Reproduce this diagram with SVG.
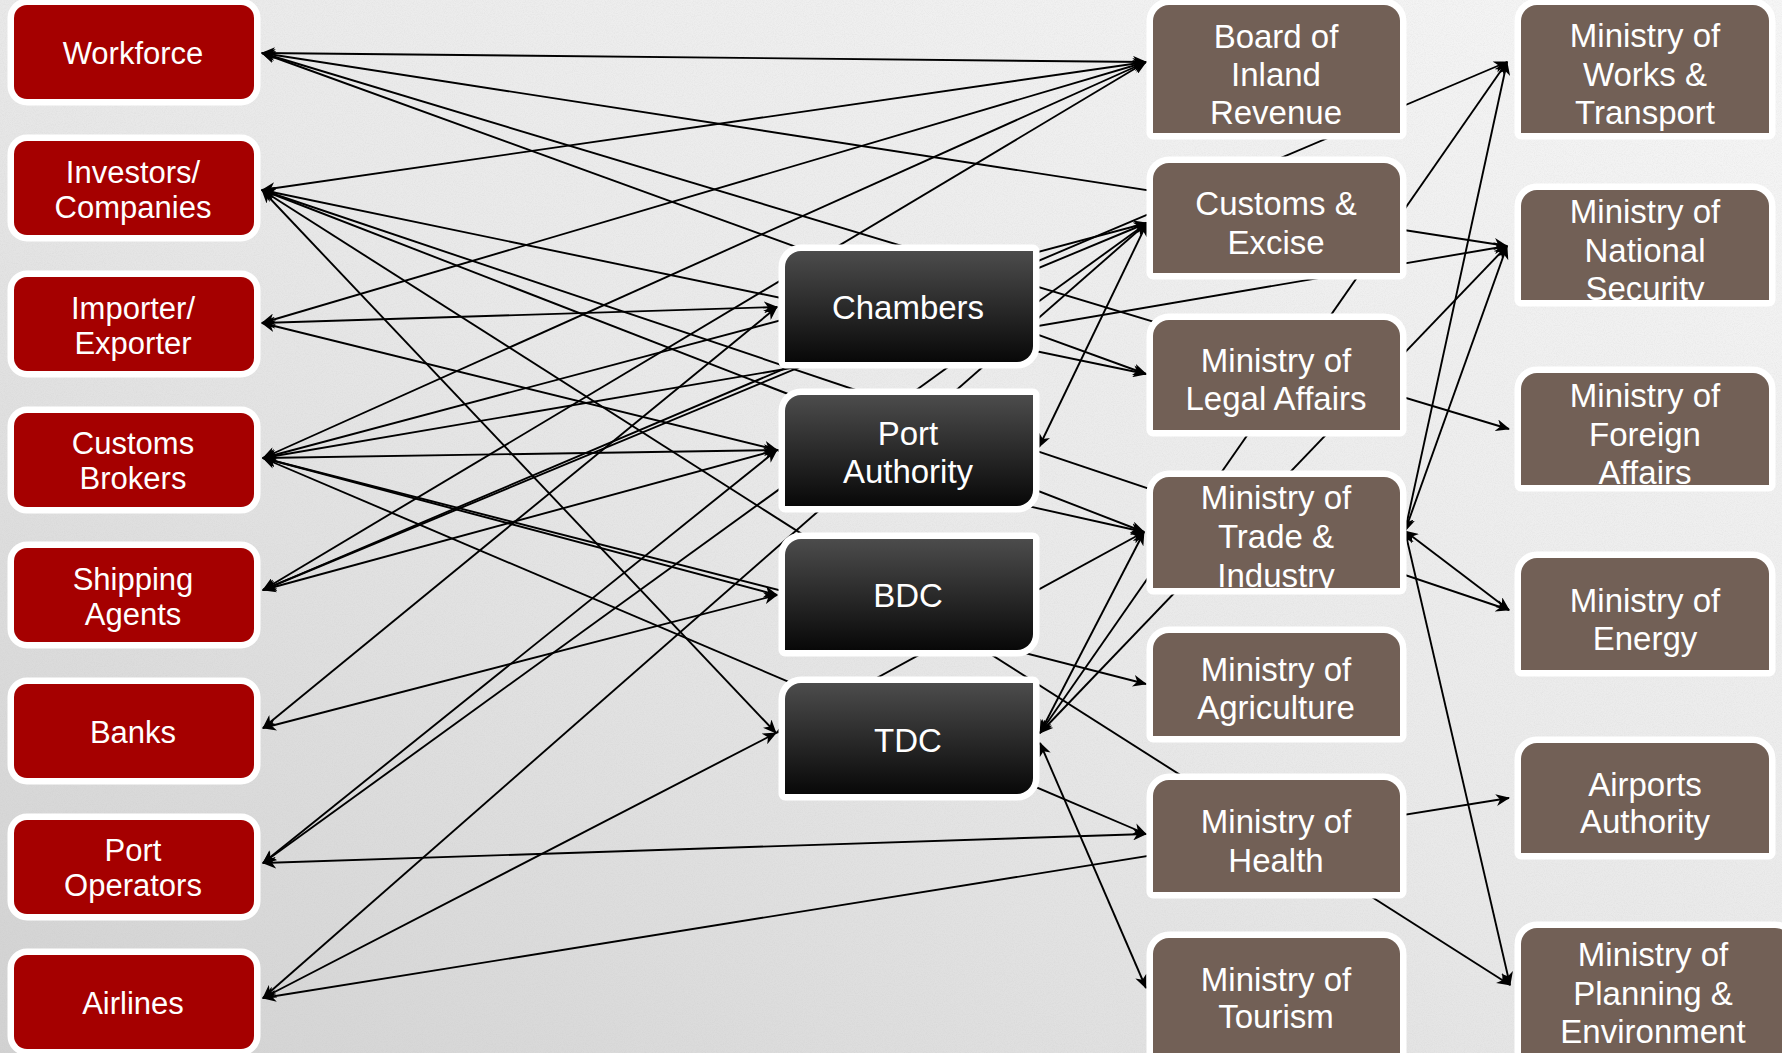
<svg xmlns="http://www.w3.org/2000/svg" width="1782" height="1053" viewBox="0 0 1782 1053">
<defs>
<linearGradient id="bg" x1="1" y1="0" x2="0" y2="1">
<stop offset="0" stop-color="#f6f6f6"/>
<stop offset="0.5" stop-color="#e9e9e9"/>
<stop offset="1" stop-color="#d2d2d2"/>
</linearGradient>
<filter id="grain" x="0" y="0" width="100%" height="100%">
<feTurbulence type="fractalNoise" baseFrequency="0.9" numOctaves="2" seed="3" result="n"/>
<feColorMatrix in="n" type="matrix" values="0 0 0 0 0.5  0 0 0 0 0.5  0 0 0 0 0.5  0 0 0 0.9 -0.35"/>
</filter>
<linearGradient id="dark" x1="0" y1="0" x2="0" y2="1">
<stop offset="0" stop-color="#4c4c4c"/>
<stop offset="1" stop-color="#080808"/>
</linearGradient>
<marker id="ah" viewBox="0 0 14 12" refX="13" refY="6" markerWidth="14" markerHeight="12" markerUnits="userSpaceOnUse" orient="auto-start-reverse">
<path d="M0,0 L14,6 L0,12 L4,6 Z" fill="#000"/>
</marker>
<clipPath id="cTrade"><rect x="1153" y="477" width="247" height="111"/></clipPath>
<clipPath id="cNat"><rect x="1521" y="190" width="248" height="110"/></clipPath>
<clipPath id="cFor"><rect x="1521" y="373" width="248" height="112"/></clipPath>
<clipPath id="cPlan"><rect x="1521" y="928" width="270" height="140"/></clipPath>
</defs>
<style>
.red{fill:#a50000;stroke:#fff;stroke-width:13;paint-order:stroke;stroke-linejoin:round}
.mid{fill:url(#dark);stroke:#fff;stroke-width:13;paint-order:stroke;stroke-linejoin:round}
.brn{fill:#726056;stroke:#fff;stroke-width:13;paint-order:stroke;stroke-linejoin:round}
text{fill:#fff;font-family:"Liberation Sans",Arial,sans-serif;text-anchor:middle}
.tr{font-size:31px}
.tm{font-size:33px}
.tb{font-size:33px}
#connectors line{stroke:#000;stroke-width:1.9;marker-start:url(#ah);marker-end:url(#ah)}
</style>
<rect width="1782" height="1053" fill="url(#bg)"/>
<rect width="1782" height="1053" filter="url(#grain)" opacity="0.35"/>
<g id="connectors">
<line x1="262" y1="53" x2="1146" y2="62"/>
<line x1="262" y1="53" x2="1507" y2="246"/>
<line x1="262" y1="53" x2="1509" y2="429"/>
<line x1="262" y1="53" x2="1146" y2="374"/>
<line x1="262" y1="190" x2="1146" y2="62"/>
<line x1="262" y1="190" x2="1146" y2="374"/>
<line x1="262" y1="190" x2="1509" y2="610"/>
<line x1="262" y1="190" x2="1144" y2="532"/>
<line x1="262" y1="190" x2="1510" y2="985"/>
<line x1="262" y1="190" x2="776" y2="733"/>
<line x1="262" y1="323" x2="1146" y2="62"/>
<line x1="262" y1="323" x2="777" y2="307"/>
<line x1="262" y1="323" x2="777" y2="450"/>
<line x1="777" y1="450" x2="1144" y2="532"/>
<line x1="263" y1="458" x2="1146" y2="62"/>
<line x1="263" y1="458" x2="1147" y2="223"/>
<line x1="263" y1="458" x2="1507" y2="246"/>
<line x1="263" y1="458" x2="777" y2="450"/>
<line x1="263" y1="458" x2="777" y2="595"/>
<line x1="263" y1="458" x2="1146" y2="684"/>
<line x1="263" y1="458" x2="1146" y2="834"/>
<line x1="263" y1="590" x2="1146" y2="62"/>
<line x1="263" y1="590" x2="1147" y2="223"/>
<line x1="263" y1="590" x2="1507" y2="62"/>
<line x1="263" y1="590" x2="777" y2="450"/>
<line x1="263" y1="728" x2="777" y2="307"/>
<line x1="263" y1="728" x2="777" y2="595"/>
<line x1="263" y1="863" x2="777" y2="450"/>
<line x1="263" y1="863" x2="1147" y2="223"/>
<line x1="263" y1="863" x2="1146" y2="834"/>
<line x1="263" y1="998" x2="1147" y2="223"/>
<line x1="263" y1="998" x2="776" y2="733"/>
<line x1="776" y1="733" x2="1144" y2="532"/>
<line x1="263" y1="998" x2="1509" y2="798"/>
<line x1="1147" y1="223" x2="1039" y2="447"/>
<line x1="1040" y1="733" x2="1144" y2="532"/>
<line x1="1040" y1="733" x2="1507" y2="62"/>
<line x1="1040" y1="733" x2="1507" y2="246"/>
<line x1="1040" y1="743" x2="1146" y2="988"/>
<line x1="1405" y1="531" x2="1507" y2="62"/>
<line x1="1405" y1="531" x2="1507" y2="246"/>
<line x1="1405" y1="531" x2="1510" y2="985"/>
<line x1="1405" y1="531" x2="1509" y2="610"/>
</g>
<g id="workforce"><rect class="red" x="14" y="5" width="240" height="94" rx="13"/><text class="tr" x="133" y="64">Workforce</text></g>
<g id="investors"><rect class="red" x="14" y="141" width="240" height="94" rx="13"/><text class="tr"><tspan x="133" y="183">Investors/</tspan><tspan x="133" y="218">Companies</tspan></text></g>
<g id="importer"><rect class="red" x="14" y="277" width="240" height="94" rx="13"/><text class="tr"><tspan x="133" y="319">Importer/</tspan><tspan x="133" y="354">Exporter</tspan></text></g>
<g id="customs-brokers"><rect class="red" x="14" y="413" width="240" height="94" rx="13"/><text class="tr"><tspan x="133" y="454">Customs</tspan><tspan x="133" y="489">Brokers</tspan></text></g>
<g id="shipping-agents"><rect class="red" x="14" y="548" width="240" height="94" rx="13"/><text class="tr"><tspan x="133" y="590">Shipping</tspan><tspan x="133" y="625">Agents</tspan></text></g>
<g id="banks"><rect class="red" x="14" y="684" width="240" height="94" rx="13"/><text class="tr" x="133" y="743">Banks</text></g>
<g id="port-operators"><rect class="red" x="14" y="820" width="240" height="94" rx="13"/><text class="tr"><tspan x="133" y="861">Port</tspan><tspan x="133" y="896">Operators</tspan></text></g>
<g id="airlines"><rect class="red" x="14" y="955" width="240" height="94" rx="13"/><text class="tr" x="133" y="1014">Airlines</text></g>

<g id="chambers"><path class="mid" d="M785,267 A16,16 0 0 1 801,251 H1033 V346 A16,16 0 0 1 1017,362 H785 Z"/><text class="tm" x="908" y="319">Chambers</text></g>
<g id="port-authority"><path class="mid" d="M785,411 A16,16 0 0 1 801,395 H1033 V490 A16,16 0 0 1 1017,506 H785 Z"/><text class="tm"><tspan x="908" y="445">Port</tspan><tspan x="908" y="483">Authority</tspan></text></g>
<g id="bdc"><path class="mid" d="M785,555 A16,16 0 0 1 801,539 H1033 V634 A16,16 0 0 1 1017,650 H785 Z"/><text class="tm" x="908" y="607">BDC</text></g>
<g id="tdc"><path class="mid" d="M785,699 A16,16 0 0 1 801,683 H1033 V778 A16,16 0 0 1 1017,794 H785 Z"/><text class="tm" x="908" y="752">TDC</text></g>

<g id="board-inland-revenue"><path class="brn" d="M1153,133 V21 A16,16 0 0 1 1169,5 H1384 A16,16 0 0 1 1400,21 V133 Z"/><text class="tb"><tspan x="1276" y="48">Board of</tspan><tspan x="1276" y="86">Inland</tspan><tspan x="1276" y="124">Revenue</tspan></text></g>
<g id="customs-excise"><path class="brn" d="M1153,273 V179 A16,16 0 0 1 1169,163 H1384 A16,16 0 0 1 1400,179 V273 Z"/><text class="tb"><tspan x="1276" y="215">Customs &amp;</tspan><tspan x="1276" y="254">Excise</tspan></text></g>
<g id="legal-affairs"><path class="brn" d="M1153,430 V336 A16,16 0 0 1 1169,320 H1384 A16,16 0 0 1 1400,336 V430 Z"/><text class="tb"><tspan x="1276" y="372">Ministry of</tspan><tspan x="1276" y="410">Legal Affairs</tspan></text></g>
<g id="trade-industry"><path class="brn" d="M1153,588 V493 A16,16 0 0 1 1169,477 H1384 A16,16 0 0 1 1400,493 V588 Z"/><text class="tb" clip-path="url(#cTrade)"><tspan x="1276" y="509">Ministry of</tspan><tspan x="1276" y="548">Trade &amp;</tspan><tspan x="1276" y="587">Industry</tspan></text></g>
<g id="agriculture"><path class="brn" d="M1153,736 V649 A16,16 0 0 1 1169,633 H1384 A16,16 0 0 1 1400,649 V736 Z"/><text class="tb"><tspan x="1276" y="681">Ministry of</tspan><tspan x="1276" y="719">Agriculture</tspan></text></g>
<g id="health"><path class="brn" d="M1153,892 V796 A16,16 0 0 1 1169,780 H1384 A16,16 0 0 1 1400,796 V892 Z"/><text class="tb"><tspan x="1276" y="833">Ministry of</tspan><tspan x="1276" y="872">Health</tspan></text></g>
<g id="tourism"><path class="brn" d="M1153,1070 V954 A16,16 0 0 1 1169,938 H1384 A16,16 0 0 1 1400,954 V1070 Z"/><text class="tb"><tspan x="1276" y="991">Ministry of</tspan><tspan x="1276" y="1028">Tourism</tspan></text></g>

<g id="works-transport"><path class="brn" d="M1521,133 V21 A16,16 0 0 1 1537,5 H1753 A16,16 0 0 1 1769,21 V133 Z"/><text class="tb"><tspan x="1645" y="47">Ministry of</tspan><tspan x="1645" y="86">Works &amp;</tspan><tspan x="1645" y="124">Transport</tspan></text></g>
<g id="national-security"><path class="brn" d="M1521,300 V206 A16,16 0 0 1 1537,190 H1753 A16,16 0 0 1 1769,206 V300 Z"/><text class="tb" clip-path="url(#cNat)"><tspan x="1645" y="223">Ministry of</tspan><tspan x="1645" y="262">National</tspan><tspan x="1645" y="300">Security</tspan></text></g>
<g id="foreign-affairs"><path class="brn" d="M1521,485 V389 A16,16 0 0 1 1537,373 H1753 A16,16 0 0 1 1769,389 V485 Z"/><text class="tb" clip-path="url(#cFor)"><tspan x="1645" y="407">Ministry of</tspan><tspan x="1645" y="446">Foreign</tspan><tspan x="1645" y="484">Affairs</tspan></text></g>
<g id="energy"><path class="brn" d="M1521,670 V574 A16,16 0 0 1 1537,558 H1753 A16,16 0 0 1 1769,574 V670 Z"/><text class="tb"><tspan x="1645" y="612">Ministry of</tspan><tspan x="1645" y="650">Energy</tspan></text></g>
<g id="airports-authority"><path class="brn" d="M1521,853 V759 A16,16 0 0 1 1537,743 H1753 A16,16 0 0 1 1769,759 V853 Z"/><text class="tb"><tspan x="1645" y="796">Airports</tspan><tspan x="1645" y="833">Authority</tspan></text></g>
<g id="planning-environment"><path class="brn" d="M1521,1070 V944 A16,16 0 0 1 1537,928 H1775 A16,16 0 0 1 1791,944 V1070 Z"/><text class="tb" clip-path="url(#cPlan)"><tspan x="1653" y="966">Ministry of</tspan><tspan x="1653" y="1005">Planning &amp;</tspan><tspan x="1653" y="1043">Environment</tspan></text></g>
</svg>
